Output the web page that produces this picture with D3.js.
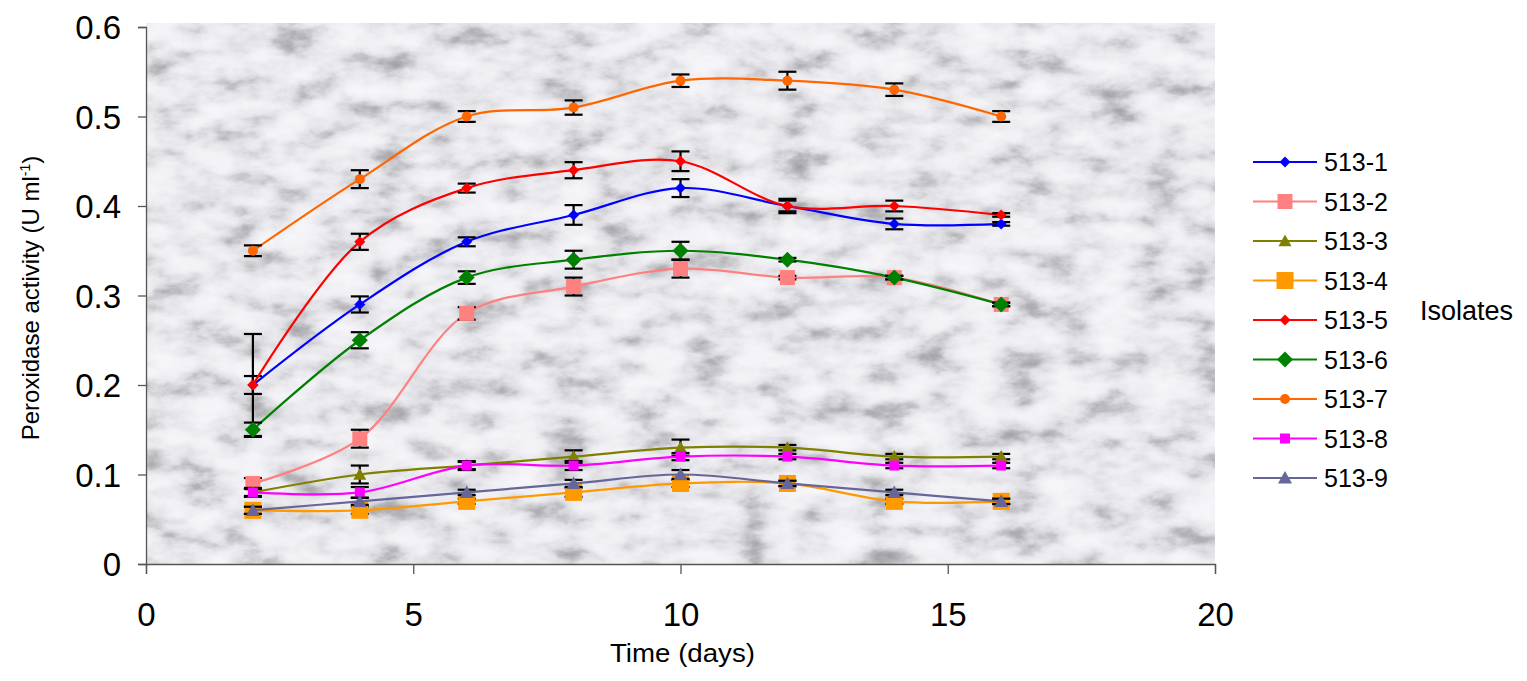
<!DOCTYPE html>
<html>
<head>
<meta charset="utf-8">
<script src="https://cdn.jsdelivr.net/npm/d3@7"></script>
<style>
  html, body { margin: 0; padding: 0; background: #fff; }
  svg { display: block; font-family: "Liberation Sans", Arial, sans-serif; }
</style>
</head>
<body>
<svg id="chart" width="1527" height="681"></svg>
<script>
// Sampling days
const days = [2, 4, 6, 8, 10, 12, 14, 16];

// Isolate names
const isolates = ["513-1", "513-2", "513-3", "513-4", "513-5", "513-6", "513-7", "513-8", "513-9"];

// Peroxidase activity (U ml-1) per isolate
const v513_1 = [0.20, 0.29, 0.36, 0.39, 0.42, 0.40, 0.38, 0.38];
const v513_2 = [0.09, 0.14, 0.28, 0.31, 0.33, 0.32, 0.32, 0.29];
const v513_3 = [0.08, 0.10, 0.11, 0.12, 0.13, 0.13, 0.12, 0.12];
const v513_4 = [0.06, 0.06, 0.07, 0.08, 0.09, 0.09, 0.07, 0.07];
const v513_5 = [0.20, 0.36, 0.42, 0.44, 0.45, 0.40, 0.40, 0.39];
const v513_6 = [0.15, 0.25, 0.32, 0.34, 0.35, 0.34, 0.32, 0.29];
const v513_7 = [0.35, 0.43, 0.50, 0.51, 0.54, 0.54, 0.53, 0.50];
const v513_8 = [0.08, 0.08, 0.11, 0.11, 0.12, 0.12, 0.11, 0.11];
const v513_9 = [0.06, 0.07, 0.08, 0.09, 0.10, 0.09, 0.08, 0.07];

// Standard errors per isolate
const e513_1 = [0.010, 0.009, 0.005, 0.011, 0.010, 0.008, 0.006, 0.002];
const e513_2 = [0.006, 0.010, 0.007, 0.010, 0.010, 0.002, 0.002, 0.002];
const e513_3 = [0.005, 0.010, 0.004, 0.007, 0.009, 0.003, 0.003, 0.003];
const e513_4 = [0.004, 0.004, 0.003, 0.005, 0.004, 0.003, 0.003, 0.003];
const e513_5 = [0.057, 0.009, 0.005, 0.009, 0.011, 0.006, 0.006, 0.002];
const e513_6 = [0.008, 0.009, 0.007, 0.010, 0.010, 0.002, 0.002, 0.002];
const e513_7 = [0.006, 0.010, 0.006, 0.008, 0.007, 0.010, 0.007, 0.006];
const e513_8 = [0.004, 0.006, 0.005, 0.005, 0.004, 0.003, 0.003, 0.003];
const e513_9 = [0.004, 0.004, 0.003, 0.004, 0.005, 0.003, 0.003, 0.003];

// Axis ticks
const xTicks = [0, 5, 10, 15, 20];
const yTicks = [0, 0.1, 0.2, 0.3, 0.4, 0.5, 0.6];

const values = [v513_1, v513_2, v513_3, v513_4, v513_5, v513_6, v513_7, v513_8, v513_9];
const errors = [e513_1, e513_2, e513_3, e513_4, e513_5, e513_6, e513_7, e513_8, e513_9];

// Series styling: colour, marker shape and marker size (px)
const styles = [
  { color: "#0000FF", shape: "diamond",  size: 11 },
  { color: "#FF8080", shape: "square",   size: 15 },
  { color: "#808000", shape: "triangle", size: 13 },
  { color: "#FF9900", shape: "square",   size: 17 },
  { color: "#FF0000", shape: "diamond",  size: 11 },
  { color: "#008000", shape: "diamond",  size: 16 },
  { color: "#FF6600", shape: "circle",   size: 10 },
  { color: "#FF00FF", shape: "square",   size: 10 },
  { color: "#666699", shape: "triangle", size: 14 }
];

const series = isolates.map((name, i) => ({
  name,
  style: styles[i],
  points: days.map((d, j) => ({ day: d, value: values[i][j], err: errors[i][j] }))
}));

const svg = d3.select("#chart");
const plotLeft = 146, plotRight = 1215, plotTop = 27, plotBottom = 564;

const x = d3.scaleLinear().domain([0, 20]).range([plotLeft, plotRight]);
const y = d3.scaleLinear().domain([0, 0.6]).range([plotBottom, plotTop]);

// Marble-like plot background: light stone with soft grey veining
const defs = svg.append("defs");
const marble = defs.append("filter").attr("id", "marble")
  .attr("x", 0).attr("y", 0).attr("width", 1).attr("height", 1)
  .attr("color-interpolation-filters", "sRGB");
marble.append("feTurbulence")
  .attr("type", "fractalNoise").attr("baseFrequency", "0.022 0.04")
  .attr("numOctaves", 5).attr("seed", 11).attr("result", "noise");
marble.append("feColorMatrix").attr("in", "noise").attr("type", "matrix")
  .attr("values", "1 0 0 0 0  1 0 0 0 0  1 0 0 0 0  0 0 0 0 1").attr("result", "gray");
const ct = marble.append("feComponentTransfer").attr("in", "gray");
const table = "0.6 0.64 0.7 0.79 0.87 0.915 0.94 0.955 0.965 0.97 0.97";
const tableB = "0.62 0.66 0.72 0.81 0.89 0.93 0.955 0.97 0.98 0.985 0.985";
ct.append("feFuncR").attr("type", "table").attr("tableValues", table);
ct.append("feFuncG").attr("type", "table").attr("tableValues", table);
ct.append("feFuncB").attr("type", "table").attr("tableValues", tableB);
ct.append("feFuncA").attr("type", "table").attr("tableValues", "1 1");

svg.append("rect")
  .attr("x", plotLeft).attr("y", plotTop - 4)
  .attr("width", plotRight - plotLeft).attr("height", plotBottom - plotTop + 4)
  .attr("fill", "#e6e6ea")
  .attr("filter", "url(#marble)");

// Axes
const axisColor = "#555";
const xAxis = svg.append("g").attr("transform", `translate(0,${plotBottom})`)
  .call(d3.axisBottom(x).tickValues(xTicks).tickSize(10).tickFormat(d3.format("d")));
const yAxis = svg.append("g").attr("transform", `translate(${plotLeft},0)`)
  .call(d3.axisLeft(y).tickValues(yTicks).tickSize(8).tickFormat(d => d === 0 ? "0" : d3.format(".1f")(d)));

[xAxis, yAxis].forEach(g => {
  g.select(".domain").attr("stroke", axisColor).attr("stroke-width", 1.3);
  g.selectAll(".tick line").attr("stroke", axisColor).attr("stroke-width", 1.3);
  g.selectAll(".tick text").attr("fill", "#000").attr("font-size", 33)
    .attr("font-family", "'Liberation Sans', Arial, sans-serif");
});
xAxis.selectAll(".tick text").attr("y", 0).attr("dy", 0).attr("transform", "translate(0,62)");
yAxis.selectAll(".tick text").attr("x", -25).attr("dy", "0.36em");

// Axis titles
svg.append("text")
  .attr("x", 610).attr("y", 662)
  .attr("font-size", 25).attr("textLength", 145).attr("lengthAdjust", "spacingAndGlyphs")
  .text("Time (days)");

const yTitle = svg.append("text")
  .attr("transform", "translate(39,298) rotate(-90)")
  .attr("text-anchor", "middle")
  .attr("font-size", 24);
yTitle.append("tspan").text("Peroxidase activity (U ml");
yTitle.append("tspan").attr("font-size", 14).attr("dy", -9).text("-1");
yTitle.append("tspan").attr("dy", 9).text(")");

// Marker path generator
function markerPath(shape, s) {
  const h = s / 2;
  switch (shape) {
    case "diamond": return `M0,${-h}L${h},0L0,${h}L${-h},0Z`;
    case "square": return `M${-h},${-h}H${h}V${h}H${-h}Z`;
    case "triangle": return `M0,${-h}L${h},${h * 0.8}H${-h}Z`;
    default: return d3.symbol(d3.symbolCircle, Math.PI * h * h)();
  }
}

const line = d3.line()
  .x(d => x(d.day)).y(d => y(d.value))
  .curve(d3.curveCatmullRom.alpha(0.5));

const plot = svg.append("g");
series.forEach(s => {
  const g = plot.append("g");
  g.append("path").datum(s.points)
    .attr("fill", "none").attr("stroke", s.style.color).attr("stroke-width", 2.2)
    .attr("d", line);

  const eb = g.selectAll(".eb").data(s.points).join("g")
    .attr("transform", d => `translate(${x(d.day)},0)`);
  eb.append("line")
    .attr("y1", d => y(d.value + d.err)).attr("y2", d => y(d.value - d.err))
    .attr("stroke", "#000").attr("stroke-width", 2.2);
  eb.append("line")
    .attr("x1", -9).attr("x2", 9)
    .attr("y1", d => y(d.value + d.err)).attr("y2", d => y(d.value + d.err))
    .attr("stroke", "#000").attr("stroke-width", 2.2);
  eb.append("line")
    .attr("x1", -9).attr("x2", 9)
    .attr("y1", d => y(d.value - d.err)).attr("y2", d => y(d.value - d.err))
    .attr("stroke", "#000").attr("stroke-width", 2.2);

  g.selectAll(".mk").data(s.points).join("path")
    .attr("transform", d => `translate(${x(d.day)},${y(d.value)})`)
    .attr("d", markerPath(s.style.shape, s.style.size))
    .attr("fill", s.style.color);
});

// Legend
const legend = svg.append("g");
series.forEach((s, i) => {
  const cy = 162 + i * 39.5;
  legend.append("line")
    .attr("x1", 1253).attr("x2", 1317).attr("y1", cy).attr("y2", cy)
    .attr("stroke", s.style.color).attr("stroke-width", 2.2);
  legend.append("path")
    .attr("transform", `translate(1285,${cy})`)
    .attr("d", markerPath(s.style.shape, s.style.size))
    .attr("fill", s.style.color);
  legend.append("text")
    .attr("x", 1324).attr("y", cy + 9)
    .attr("font-size", 25)
    .text(s.name);
});
svg.append("text")
  .attr("x", 1420).attr("y", 320)
  .attr("font-size", 27)
  .text("Isolates");
</script>
</body>
</html>
